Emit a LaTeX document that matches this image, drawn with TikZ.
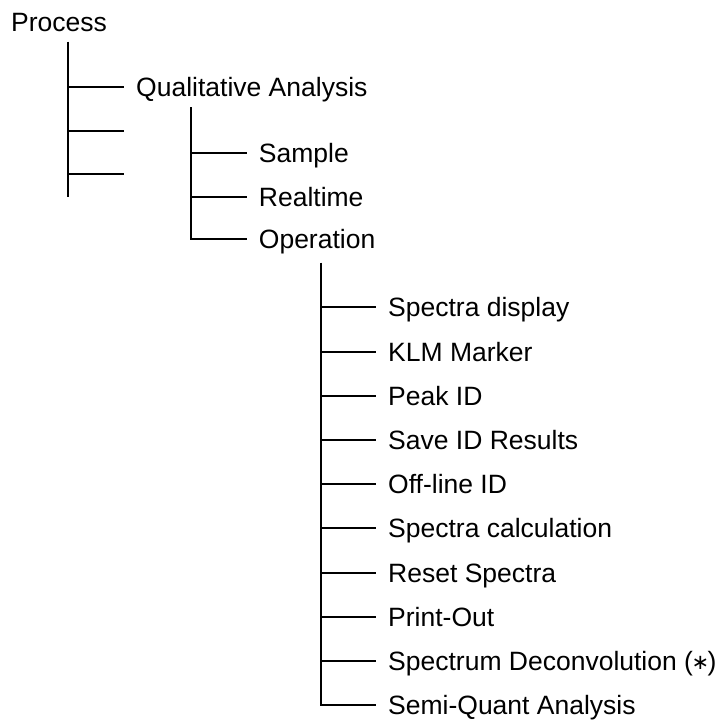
\documentclass[tikz,border=0pt]{standalone}
\usepackage{fontspec}
\setmainfont{Liberation Sans}
\newfontfamily\symfont{DejaVu Sans}
\usetikzlibrary{positioning}

% narrow star between brackets
\newcommand{\starmark}{\kern-1.5pt{\symfont\fontsize{21}{26}\selectfont\raisebox{1pt}{∗}}\kern-1.5pt}

\begin{document}
\begin{tikzpicture}[
  x=1pt, y=-1pt,
  node distance=24.8pt,
  item/.style={anchor=west, inner xsep=12pt, inner ysep=0pt, text height=19pt, text depth=0pt,
               font=\fontsize{26.5}{30}\selectfont},
  root/.style={item, inner xsep=0pt},
  leaf/.style={item, anchor=north west},
  branch/.style={line width=2pt}]

  \useasboundingbox (0,0) rectangle (721,720);

  % first two levels
  \node[root] (proc) at (11,22.3) {Process};
  \node[item] (qual) at (124,87.3) {Qualitative Analysis};
  \node[item] (samp) at (246.7,153.3) {Sample};
  \node[item] (realt) at (246.7,196.7) {Realtime};
  \node[item] (oper) at (246.7,239.3) {Operation};

  \coordinate (t1top) at (68.3,41.7);
  \coordinate (t1bot) at (68.3,196.7);
  \coordinate (e1) at (124,130.7);
  \coordinate (e2) at (124,174);
  \coordinate (t2top) at (190.7,107.3);
  \coordinate (t3top) at (321,262.7);

  % operation menu
  \node[item] (specd) at (376,307.3) {Spectra display};
  \node[leaf, below=of specd.south west, anchor=north west] (klm) {KLM Marker};
  \node[leaf, below=of klm.south west, anchor=north west] (peak) {Peak ID};
  \node[leaf, below=of peak.south west, anchor=north west] (saveid) {Save ID Results};
  \node[leaf, below=of saveid.south west, anchor=north west] (offid) {Off-line ID};
  \node[leaf, below=of offid.south west, anchor=north west] (specc) {Spectra calculation};
  \node[leaf, below=of specc.south west, anchor=north west] (reset) {Reset Spectra};
  \node[leaf, below=of reset.south west, anchor=north west] (print) {Print-Out};
  \node[leaf, below=of print.south west, anchor=north west] (deconv) {Spectrum Deconvolution (\starmark)};
  \node[leaf, below=of deconv.south west, anchor=north west] (semiq) {Semi-Quant Analysis};

  \draw[branch] (t1top) -- (t1bot);
  \draw[branch] (t1top |- qual.west) -- (qual.west);
  \draw[branch] (t1top |- e1) -- (e1);
  \draw[branch] (t1top |- e2) -- (e2);

  \draw[branch] (t2top) -- (t2top |- oper.west) -- (oper.west);
  \draw[branch] (t2top |- samp.west) -- (samp.west);
  \draw[branch] (t2top |- realt.west) -- (realt.west);

  \draw[branch] (t3top) -- (t3top |- semiq.west) -- (semiq.west);
  \foreach \n in {specd,klm,peak,saveid,offid,specc,reset,print,deconv}
    \draw[branch] (t3top |- \n.west) -- (\n.west);
\end{tikzpicture}
\end{document}
